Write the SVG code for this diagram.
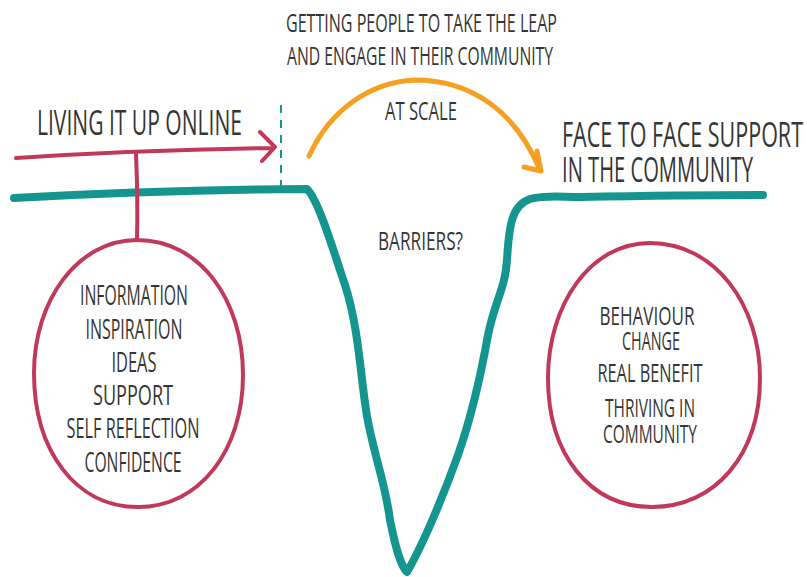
<svg xmlns="http://www.w3.org/2000/svg" width="807" height="577" viewBox="0 0 807 577">
<style>
text{font-family:"Open Sans","Liberation Sans",sans-serif;fill:#353535;text-anchor:start}
.c{text-anchor:middle}
.teal{fill:none;stroke:#14958f;stroke-width:8;stroke-linecap:round;stroke-linejoin:round}
.mag{fill:none;stroke:#c0395a;stroke-width:4;stroke-linecap:round;stroke-linejoin:round}
.org{fill:none;stroke:#f5a021;stroke-width:5;stroke-linecap:round;stroke-linejoin:round}
</style>
<rect width="807" height="577" fill="#ffffff"/>
<g id="connectors">
<path class="teal" d="M14,198 Q160,190 307,189 C318,200 330,240 345,285 C358,325 360,370 366,410 C372,450 385,480 390,520 C395,545 400,565 407,572 C420,550 440,505 458,455 C472,415 480,380 488,335 C495,300 505,290 507,260 C509,225 512,205 530,199 C545,195 560,197 580,197 Q680,195 763,195"/>
<path class="mag" d="M16,158 Q140,150 274,148 M260,132 L275,147 L262,161"/>
<path class="mag" d="M136,154 Q138,200 137,240"/>
<line x1="281" y1="105" x2="281" y2="187" stroke="#14958f" stroke-width="2" stroke-dasharray="8,7"/>
<path class="org" d="M309,156 C330,110 370,82 415,80 C470,80 515,110 540,170 M537,151 L541,171 L524,167"/>
</g>
<g id="online">
<text x="37" y="135" font-size="35" textLength="205" lengthAdjust="spacingAndGlyphs">LIVING IT UP ONLINE</text>
</g>
<g id="leap">
<text x="286" y="32" font-size="25" textLength="271" lengthAdjust="spacingAndGlyphs">GETTING PEOPLE TO TAKE THE LEAP</text>
<text x="287" y="65" font-size="25" textLength="266" lengthAdjust="spacingAndGlyphs">AND ENGAGE IN THEIR COMMUNITY</text>
<text x="385" y="120" font-size="26" textLength="72" lengthAdjust="spacingAndGlyphs">AT SCALE</text>
</g>
<g id="face">
<text x="562" y="147" font-size="35" textLength="241" lengthAdjust="spacingAndGlyphs">FACE TO FACE SUPPORT</text>
<text x="562" y="182" font-size="35" textLength="191" lengthAdjust="spacingAndGlyphs">IN THE COMMUNITY</text>
</g>
<g id="barriers">
<text x="378" y="250" font-size="26" textLength="85" lengthAdjust="spacingAndGlyphs">BARRIERS?</text>
</g>
<g id="online-benefits">
<path class="mag" d="M137,240 C200,240 243,300 243,375 C243,450 200,507 138,507 C75,507 34,450 34,373 C34,300 78,240 137,240 Z"/>
<text class="c" x="134" y="305" font-size="28" textLength="108" lengthAdjust="spacingAndGlyphs">INFORMATION</text>
<text class="c" x="134" y="339" font-size="28" textLength="97" lengthAdjust="spacingAndGlyphs">INSPIRATION</text>
<text class="c" x="134" y="372" font-size="28" textLength="45" lengthAdjust="spacingAndGlyphs">IDEAS</text>
<text class="c" x="133" y="405" font-size="28" textLength="80" lengthAdjust="spacingAndGlyphs">SUPPORT</text>
<text class="c" x="133" y="438" font-size="28" textLength="133" lengthAdjust="spacingAndGlyphs">SELF REFLECTION</text>
<text class="c" x="133" y="472" font-size="28" textLength="97" lengthAdjust="spacingAndGlyphs">CONFIDENCE</text>
</g>
<g id="community-benefits">
<path class="mag" d="M650,243 C715,243 760,305 760,378 C760,455 715,507 652,507 C590,507 548,455 548,378 C548,305 590,243 650,243 Z"/>
<text class="c" x="647" y="325" font-size="26" textLength="95" lengthAdjust="spacingAndGlyphs">BEHAVIOUR</text>
<text class="c" x="651" y="350" font-size="26" textLength="58" lengthAdjust="spacingAndGlyphs">CHANGE</text>
<text class="c" x="650" y="382" font-size="26" textLength="105" lengthAdjust="spacingAndGlyphs">REAL BENEFIT</text>
<text class="c" x="650" y="417" font-size="26" textLength="90" lengthAdjust="spacingAndGlyphs">THRIVING IN</text>
<text class="c" x="650" y="443" font-size="26" textLength="94" lengthAdjust="spacingAndGlyphs">COMMUNITY</text>
</g>
</svg>
